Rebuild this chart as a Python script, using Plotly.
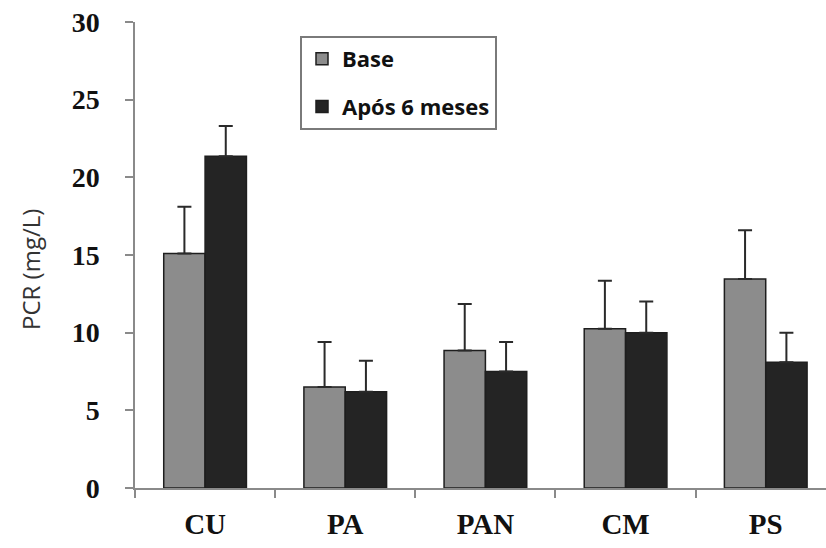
import plotly.graph_objects as go

categories = ["CU", "PA", "PAN", "CM", "PS"]
base_values = [15.1, 6.5, 8.85, 10.25, 13.45]
base_err = [3.0, 2.9, 3.0, 3.1, 3.15]
after_values = [21.35, 6.2, 7.5, 10.0, 8.1]
after_err = [1.95, 2.0, 1.9, 2.0, 1.9]
y_ticks = [0, 5, 10, 15, 20, 25, 30]

fig = go.Figure()
fig.add_trace(go.Bar(
    name="Base", x=categories, y=base_values, legendgroup="a",
    marker=dict(color="#8c8c8c", line=dict(color="#1e1e1e", width=1.5)),
    error_y=dict(type="data", array=base_err, arrayminus=[0]*5, symmetric=False,
                 color="#2a2a2a", thickness=2, width=7),
))
fig.add_trace(go.Bar(
    name="Após 6 meses", x=categories, y=after_values, legendgroup="b",
    marker=dict(color="#242424", line=dict(color="#1e1e1e", width=1.5)),
    error_y=dict(type="data", array=after_err, arrayminus=[0]*5, symmetric=False,
                 color="#2a2a2a", thickness=2, width=7),
))

fig.update_layout(
    width=826, height=548,
    margin=dict(l=135, r=0, t=22, b=60),
    plot_bgcolor="white", paper_bgcolor="white",
    barmode="group", bargap=0.41, bargroupgap=0,
    showlegend=True,
    legend=dict(
        x=(300-135)/691, y=(488-36)/466, xanchor="left", yanchor="top",
        bgcolor="white", bordercolor="#7a7a7a", borderwidth=2,
        font=dict(family="Open Sans", size=22, color="#111111", weight="bold"),
        traceorder="grouped", tracegroupgap=16,
    ),
    xaxis=dict(
        range=[-0.5, 4.43], showline=True, linecolor="#8a8a8a", linewidth=1.5,
        ticks="outside", tickson="boundaries", ticklen=8, tickcolor="#8a8a8a",
        tickwidth=1.5, automargin=False, ticklabelstandoff=9,
        tickfont=dict(family="Liberation Serif", size=29, color="#111111", weight="bold"),
        showgrid=False, zeroline=False,
    ),
    yaxis=dict(
        range=[0, 30], tickvals=y_ticks, showline=True, linecolor="#8a8a8a",
        linewidth=1.5, ticks="outside", ticklen=8, tickcolor="#8a8a8a", tickwidth=1.5,
        tickfont=dict(family="Liberation Serif", size=28, color="#111111", weight="bold"),
        ticklabelstandoff=20, automargin=False,
        showgrid=False, zeroline=False,
    ),
    annotations=[dict(
        text="PCR (mg/L)", textangle=-90, xref="paper", yref="paper",
        x=(30-135)/691, y=(488-270)/466, xanchor="center", yanchor="middle",
        showarrow=False, font=dict(family="Open Sans", size=24, color="#333333"),
    )],
)

fig.write_html("out.html", config={"displayModeBar": False},
               post_script="document.body.style.margin='0';document.body.style.padding='0';")
